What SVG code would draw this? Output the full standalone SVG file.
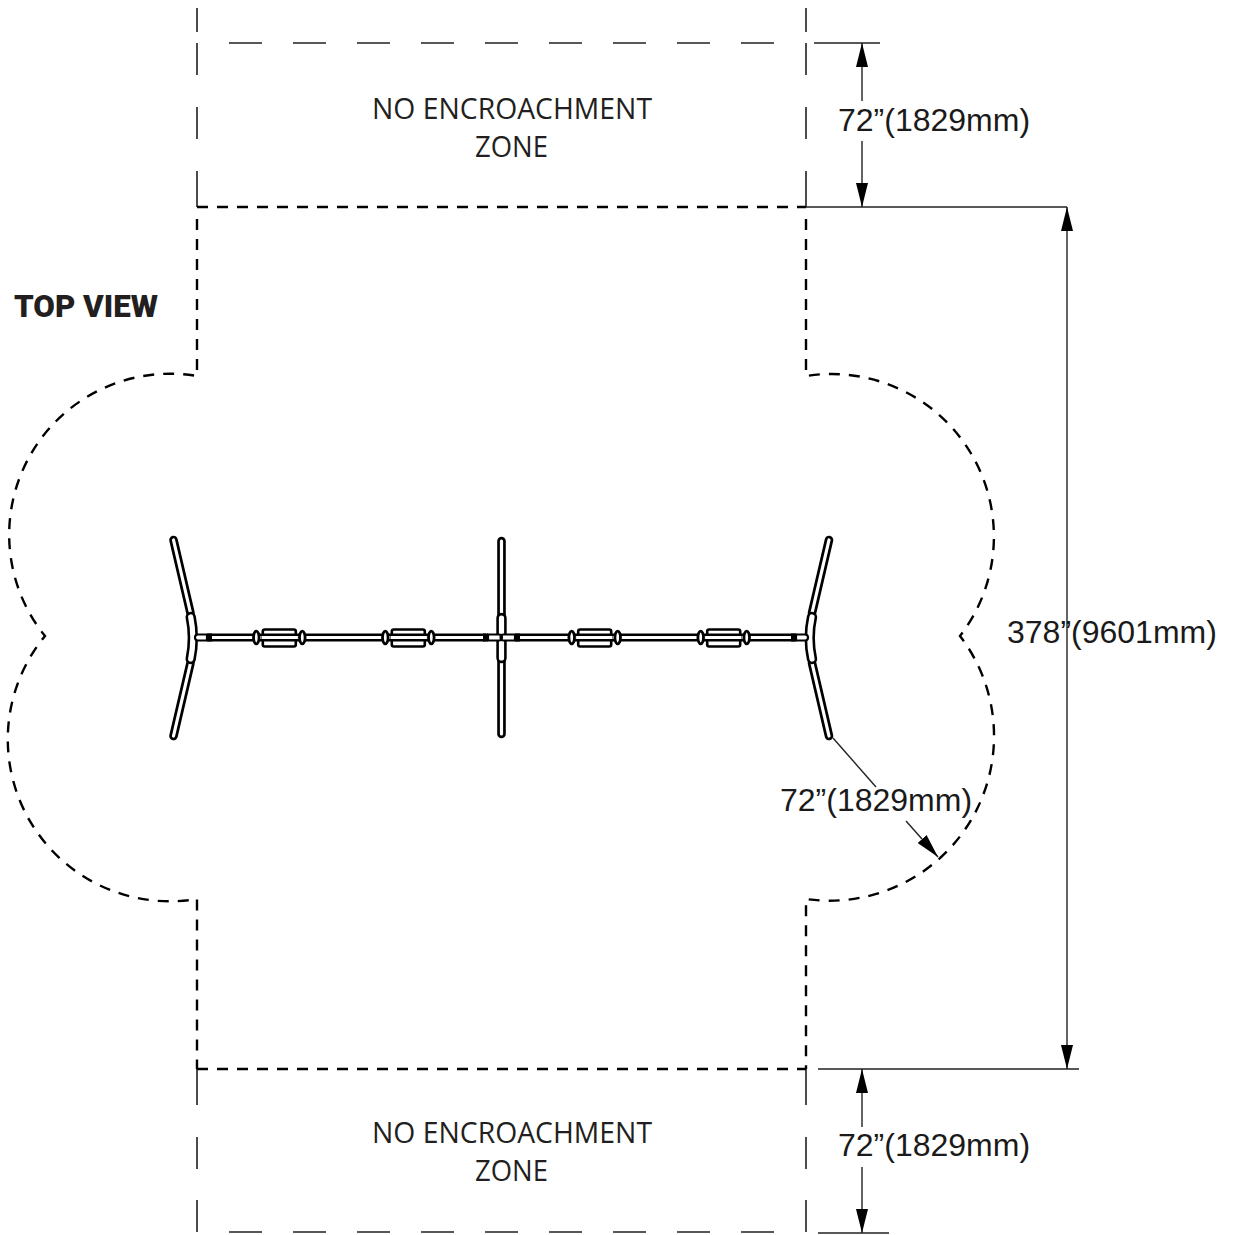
<svg xmlns="http://www.w3.org/2000/svg" width="1235" height="1235" viewBox="0 0 1235 1235">
<style>
.dim{font-family:"Liberation Sans",Arial,sans-serif;font-size:32px;fill:#1a1a1a}
.zone{font-family:"Open Sans","Noto Sans",sans-serif;font-size:29px;fill:#231f20;text-anchor:middle}
.ld{fill:none;stroke:#231f20;stroke-width:1.6}
.sd{fill:none;stroke:#000;stroke-width:2.4;stroke-dasharray:11 9}
.dl{fill:none;stroke:#222;stroke-width:1.4}
.o{fill:none;stroke:#000;stroke-linecap:round;stroke-width:8.6}
.i{fill:none;stroke:#fff;stroke-linecap:round;stroke-width:3.2}
.ho{fill:none;stroke:#000;stroke-linecap:round;stroke-width:10.4}
.hi{fill:none;stroke:#fff;stroke-linecap:round;stroke-width:5.2}
.bo{fill:none;stroke:#000;stroke-width:8}
.bi{fill:none;stroke:#fff;stroke-width:3}
.ov{fill:#fff;stroke:#000;stroke-width:2.8}
.cl{fill:#fff;stroke:#000;stroke-width:2.6}
</style>
<defs>
<marker id="a" markerUnits="userSpaceOnUse" markerWidth="24" markerHeight="12" refX="24" refY="6" orient="auto"><path d="M0 0L24 6L0 12z" fill="#000"/></marker>
<marker id="b" markerUnits="userSpaceOnUse" markerWidth="24" markerHeight="12" refX="24" refY="6" orient="auto-start-reverse"><path d="M0 0L24 6L0 12z" fill="#000"/></marker>
<g id="clamp">
<rect class="cl" x="6.5" y="-7.500" width="33" height="17" rx="2"/>
<ellipse class="ov" cx="0" cy="0.500" rx="2.8" ry="6.4"/>
<ellipse class="ov" cx="46" cy="0.500" rx="2.8" ry="6.4"/>
</g>
</defs>
<g id="no-encroachment-boundary">
<path class="ld" d="M197 8V32M197 43V75M197 107V139M197 171V207M806 8V32M806 43V75M806 107V139M806 171V207"/>
<path class="ld" d="M229 43H262M293 43H326M357 43H390M421 43H454M485 43H518M549 43H582M613 43H646M677 43H710M741 43H774"/>
<path class="ld" d="M197 1069V1105M197 1137V1169M197 1200V1232M806 1069V1105M806 1137V1169M806 1200V1232"/>
<path class="ld" d="M229 1232H262M293 1232H326M357 1232H390M421 1232H454M485 1232H518M549 1232H582M613 1232H646M677 1232H710M741 1232H774"/>
</g>
<g id="use-zone-outline">
<path class="sd" d="M197 207H806"/>
<path class="sd" d="M197 1069H806"/>
<path class="sd" d="M197 219V376A161 161 0 0 0 45 636A162 162 0 0 0 197 899V1069"/>
<path class="sd" d="M806 219V376A162.600 162.600 0 0 1 960 636A164.500 164.500 0 0 1 806 899V1069"/>
</g>
<g id="structure">
<path class="o" d="M173.500 540L190.500 613M190.500 663L173.500 736"/>
<path class="i" d="M173.500 540L190.500 613M190.500 663L173.500 736"/>
<path class="o" d="M501.500 541V734"/>
<path class="i" d="M501.500 541V734"/>
<path class="o" d="M829 540L812 613M812 663L829 736"/>
<path class="i" d="M829 540L812 613M812 663L829 736"/>
<path class="bo" d="M208 637.500H486M516 637.500H795"/>
<path class="bi" d="M208 637.500H486M516 637.500H795"/>
<use href="#clamp" x="256.300" y="637"/>
<use href="#clamp" x="385.300" y="637"/>
<use href="#clamp" x="571.700" y="637"/>
<use href="#clamp" x="700.700" y="637"/>
<path class="bo" d="M262 637.500H297M391 637.500H426M577 637.500H612M706 637.500H741"/>
<path class="bi" d="M262 637.500H297M391 637.500H426M577 637.500H612M706 637.500H741"/>
<path class="ho" d="M190.700 617Q195 638 190.700 659"/>
<path class="hi" d="M190.700 617Q195 638 190.700 659"/>
<path class="ho" d="M501.500 618V658"/>
<path class="hi" d="M501.500 618V658"/>
<path class="ho" d="M812 617Q807.500 638 812 659"/>
<path class="hi" d="M812 617Q807.500 638 812 659"/>
<path fill="#000" d="M207 633.500h5v8h-5zM483 633.500h5v8h-5zM515 633.500h5v8h-5zM791 633.500h5v8h-5z"/>
<path fill="#fff" stroke="#000" stroke-width="2.2" d="M207 634.500H198a3 3 0 0 0 0 6h9zM499 634.500H488v6h11a3 3 0 0 0 0-6zM503.500 634.500H515v6H503.500a3 3 0 0 1 0-6zM796 634.500H805a3 3 0 0 1 0 6H796z"/>
</g>
<g id="connectors">
<path class="dl" d="M814 43H880M806 207H1067M818 1069H1079M818 1233H889"/>
<path class="dl" d="M862 101V43" marker-end="url(#a)"/>
<path class="dl" d="M862 141V207" marker-end="url(#a)"/>
<path class="dl" d="M862 1127V1069" marker-end="url(#a)"/>
<path class="dl" d="M862 1167V1233" marker-end="url(#a)"/>
<path class="dl" d="M1067 207V1069" marker-start="url(#b)" marker-end="url(#b)"/>
<path class="dl" d="M833 738L876 787"/>
<path class="dl" d="M906 821L938 857" marker-end="url(#a)"/>
</g>
<g id="labels">
<text class="zone" x="512" y="119" textLength="280" lengthAdjust="spacingAndGlyphs">NO ENCROACHMENT</text>
<text class="zone" x="511.500" y="157" textLength="73" lengthAdjust="spacingAndGlyphs">ZONE</text>
<text class="zone" x="512" y="1143" textLength="280" lengthAdjust="spacingAndGlyphs">NO ENCROACHMENT</text>
<text class="zone" x="511.500" y="1181" textLength="73" lengthAdjust="spacingAndGlyphs">ZONE</text>
<text x="14" y="317" font-family="Roboto,sans-serif" font-weight="900" font-size="31.500" fill="#231f20" textLength="144" lengthAdjust="spacingAndGlyphs">TOP VIEW</text>
<text class="dim" x="838" y="131">72”(1829mm)</text>
<text class="dim" x="838" y="1156">72”(1829mm)</text>
<text class="dim" x="780" y="811">72”(1829mm)</text>
<text class="dim" x="1007" y="643">378”(9601mm)</text>
</g>
</svg>
